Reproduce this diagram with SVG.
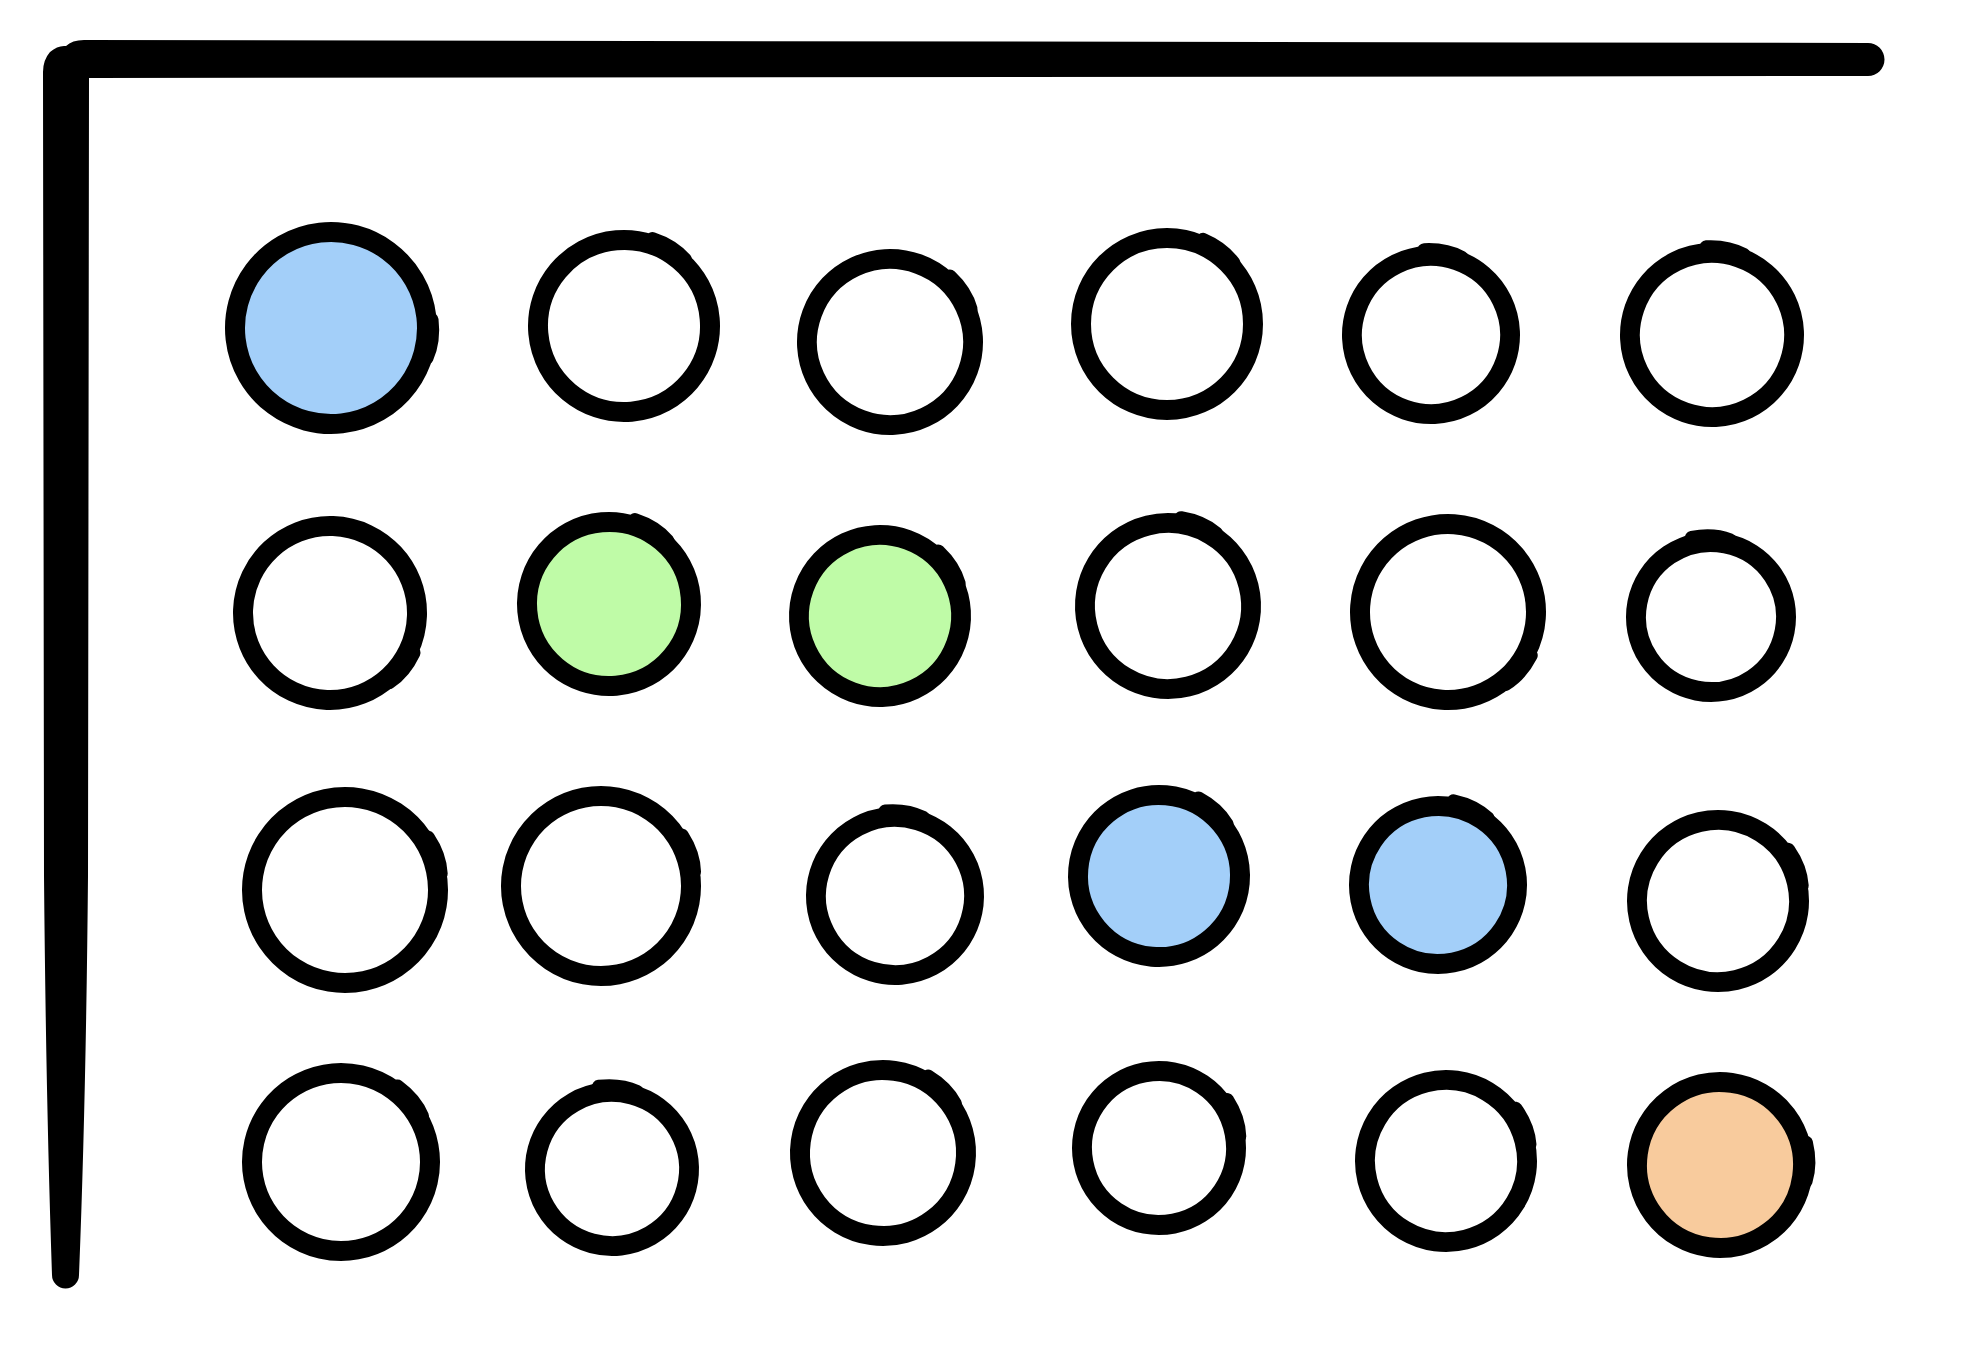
<svg xmlns="http://www.w3.org/2000/svg" width="1962" height="1370" viewBox="0 0 1962 1370">
<style>
.ring{fill:#ffffff;stroke:#000;stroke-width:20}
.tick{fill:none;stroke:#000;stroke-width:14;stroke-linecap:round}
.blue{fill:#a3cff9}
.green{fill:#bffba7}
.orange{fill:#f8cb9d}
</style>
<rect width="1962" height="1370" fill="#ffffff"/>
<g id="frame">
<path d="M 89 78 L 1868 76 A 16.5 16.5 0 0 0 1868 43 L 84 40 Q 72 40 66 46 Q 58 45 50 52 Q 43 60 43 72 L 44 876 Q 46 1100 52 1275 A 13.5 13.5 0 0 0 79 1275 Q 86 1100 88 876 Z" fill="#000"/>
</g>
<g id="connectors"></g>
<g id="c1" transform="translate(331,328) rotate(15)"><circle class="ring blue" r="96"/><path class="tick" d="M 95 -34 Q 103 -14 100 4"/></g>
<g id="c2" transform="translate(624,326) rotate(-50)"><circle class="ring" r="86"/><path class="tick" d="M 85 -34 Q 93 -14 90 4"/></g>
<g id="c3" transform="translate(890,342) rotate(-25)"><circle class="ring" r="83"/><path class="tick" d="M 82 -34 Q 90 -14 87 4"/></g>
<g id="c4" transform="translate(1167,324) rotate(-45)"><circle class="ring" r="86"/><path class="tick" d="M 85 -34 Q 93 -14 90 4"/></g>
<g id="c5" transform="translate(1431,335) rotate(-71)"><circle class="ring" r="79"/><path class="tick" d="M 78 -34 Q 86 -14 83 4"/></g>
<g id="c6" transform="translate(1712,335) rotate(-71)"><circle class="ring" r="82"/><path class="tick" d="M 81 -34 Q 89 -14 86 4"/></g>
<g id="c7" transform="translate(330,613) rotate(47)"><circle class="ring" r="87"/><path class="tick" d="M 86 -34 Q 94 -14 91 4"/></g>
<g id="c8" transform="translate(609,604) rotate(-50)"><circle class="ring green" r="82"/><path class="tick" d="M 81 -34 Q 89 -14 86 4"/></g>
<g id="c9" transform="translate(880,616) rotate(-25)"><circle class="ring green" r="81"/><path class="tick" d="M 80 -34 Q 88 -14 85 4"/></g>
<g id="c10" transform="translate(1168,606) rotate(-59)"><circle class="ring" r="83"/><path class="tick" d="M 82 -34 Q 90 -14 87 4"/></g>
<g id="c11" transform="translate(1448,612) rotate(49)"><circle class="ring" r="88"/><path class="tick" d="M 87 -34 Q 95 -14 92 4"/></g>
<g id="c12" transform="translate(1711,617) rotate(-79)"><circle class="ring" r="75"/><path class="tick" d="M 74 -34 Q 82 -14 79 4"/></g>
<g id="c13" transform="translate(345,890) rotate(-12)"><circle class="ring" r="93"/><path class="tick" d="M 92 -34 Q 100 -14 97 4"/></g>
<g id="c14" transform="translate(601,886) rotate(-11)"><circle class="ring" r="90"/><path class="tick" d="M 89 -34 Q 97 -14 94 4"/></g>
<g id="c15" transform="translate(895,896) rotate(-73)"><circle class="ring" r="79"/><path class="tick" d="M 78 -34 Q 86 -14 83 4"/></g>
<g id="c16" transform="translate(1159,876) rotate(-40)"><circle class="ring blue" r="81"/><path class="tick" d="M 80 -34 Q 88 -14 85 4"/></g>
<g id="c17" transform="translate(1438,885) rotate(-56)"><circle class="ring blue" r="79"/><path class="tick" d="M 78 -34 Q 86 -14 83 4"/></g>
<g id="c18" transform="translate(1718,901) rotate(-13)"><circle class="ring" r="81"/><path class="tick" d="M 80 -34 Q 88 -14 85 4"/></g>
<g id="c19" transform="translate(341,1162) rotate(-32)"><circle class="ring" r="89"/><path class="tick" d="M 88 -34 Q 96 -14 93 4"/></g>
<g id="c20" transform="translate(612,1169) rotate(-75)"><circle class="ring" r="77"/><path class="tick" d="M 76 -34 Q 84 -14 81 4"/></g>
<g id="c21" transform="translate(883,1153) rotate(-37)"><circle class="ring" r="83"/><path class="tick" d="M 82 -34 Q 90 -14 87 4"/></g>
<g id="c22" transform="translate(1159,1148) rotate(-11)"><circle class="ring" r="77"/><path class="tick" d="M 76 -34 Q 84 -14 81 4"/></g>
<g id="c23" transform="translate(1446,1161) rotate(-14)"><circle class="ring" r="81"/><path class="tick" d="M 80 -34 Q 88 -14 85 4"/></g>
<g id="c24" transform="translate(1720,1165) rotate(8)"><circle class="ring orange" r="83"/><path class="tick" d="M 82 -34 Q 90 -14 87 4"/></g>
</svg>
